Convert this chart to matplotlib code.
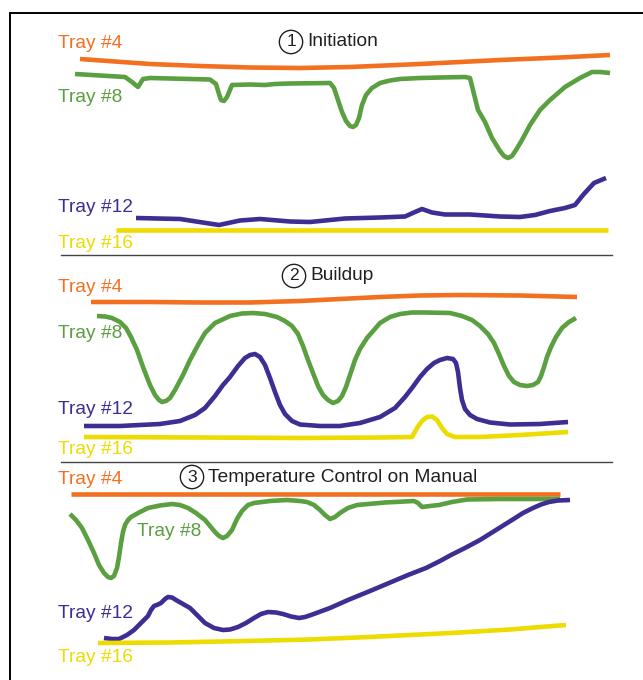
import matplotlib
matplotlib.use("Agg")
from matplotlib import pyplot

pyplot.rcParams["font.family"] = ["Liberation Sans", "DejaVu Sans"]

# Colours of the four trays
orange = "#F37021"
green = "#5A9F40"
purple = "#3F2D94"
yellow = "#ECDC00"
ink = "#231F20"

# Panel 1: Initiation (x = time, y = trace position)
p1_t4_x = [80, 150, 200, 250, 300, 350, 420, 500, 560, 610]
p1_t4_y = [59, 64, 66, 67.5, 68, 67, 64, 60, 57.5, 55]
p1_t8_x = [75, 100, 125, 132, 138, 143, 150, 210, 216, 219, 221, 224, 227, 232, 250, 265, 275,
           290, 330, 334, 338, 342, 346, 350, 353, 356, 359, 362, 366, 372, 380, 390, 400, 420,
           440, 465, 470, 473, 478, 485, 492, 500, 504, 508, 512, 516, 522, 530, 540, 550, 565,
           580, 592, 600, 610]
p1_t8_y = [74, 75.5, 77, 82, 87, 79, 78, 79.5, 84, 94, 100, 101, 97, 85, 84.5, 85, 84,
           83.5, 83, 88, 100, 112, 121, 126, 127, 125, 118, 105, 95, 88, 83, 80.5, 79, 78,
           77.5, 77, 78, 90, 110, 122, 138, 151, 156, 158, 156, 150, 140, 125, 110, 100, 87,
           78, 72, 72, 73]
p1_t12_x = [136, 180, 219, 240, 260, 290, 310, 345, 380, 405, 415, 422, 432, 445, 470, 500,
            520, 535, 550, 565, 575, 583, 594, 606]
p1_t12_y = [218, 219, 225, 220.5, 219, 221.5, 222, 218.5, 217.5, 216.5, 212, 209, 212.5, 214.5, 214.5, 216.5,
            217, 215, 211, 208, 205, 195, 183, 178]
p1_t16_x = [116, 608]
p1_t16_y = [230, 230]

# Panel 2: Buildup
p2_t4_x = [91, 150, 200, 250, 300, 340, 380, 420, 460, 520, 577]
p2_t4_y = [302, 302, 302.5, 302.5, 301, 299, 297, 295.5, 295, 295.5, 297]
p2_t8_x = [97, 105, 112, 120, 126, 131, 137, 143, 150, 155, 159, 162, 166, 170, 175, 183,
           190, 198, 205, 215, 230, 242, 253, 265, 277, 285, 292, 298, 303, 308, 313, 318,
           323, 328, 333, 338, 342, 346, 350, 355, 360, 367, 374, 380, 390, 400, 412, 425,
           450, 462, 472, 480, 488, 494, 499, 504, 509, 514, 520, 527, 533, 538, 541, 544,
           547, 551, 556, 562, 569, 576]
p2_t8_y = [316, 316.5, 318, 322, 328, 337, 350, 367, 385, 395, 400, 402, 401, 398, 390, 375,
           360, 345, 333, 323, 316, 313.5, 313, 314, 317, 321, 326, 334, 346, 360, 373, 386,
           395, 400, 403, 401, 396, 387, 375, 360, 349, 338, 330, 323, 317, 314, 312.5, 312.5,
           313, 316, 320, 326, 334, 343, 354, 366, 376, 382, 385, 386, 385, 382, 376, 367,
           357, 347, 337, 328, 322, 318]
p2_t12_x = [84, 120, 160, 180, 195, 205, 215, 223, 230, 238, 245, 250, 255, 260, 265, 270,
            275, 280, 285, 292, 300, 320, 340, 360, 380, 395, 405, 412, 420, 427, 434, 440,
            447, 453, 456, 458, 460, 462, 465, 470, 477, 490, 510, 540, 568]
p2_t12_y = [426, 426, 424, 421, 415, 408, 396, 385, 377, 366, 358, 355, 354, 357, 365, 378,
            392, 405, 414, 421, 424.5, 426, 426, 423, 417, 408, 397, 388, 377, 369, 363, 360,
            358, 359, 363, 372, 388, 400, 409, 415, 419, 422.5, 424.5, 424, 422]
p2_t16_x = [84, 200, 300, 380, 412, 417, 422, 427, 432, 437, 442, 447, 455, 480, 520, 568]
p2_t16_y = [437, 437.5, 438, 437.5, 437, 428, 421, 417, 416.5, 420, 428, 434, 437, 437, 435, 432]

# Panel 3: Temperature Control on Manual
p3_t4_x = [71, 560]
p3_t4_y = [494, 494]
p3_t8_x = [70, 76, 82, 88, 94, 99, 104, 108, 111, 114, 117, 119, 121, 123, 125, 128, 131, 140,
           148, 160, 172, 180, 188, 196, 205, 210, 215, 219, 223, 227, 232, 237, 242, 248, 254,
           270, 287, 300, 307, 314, 320, 325, 330, 335, 340, 348, 357, 385, 414, 418, 422, 430,
           439, 452, 467, 500, 560]
p3_t8_y = [514, 520, 528, 540, 553, 565, 573, 577, 578, 576, 568, 557, 543, 532, 525, 520,
           517, 512, 508, 505.5, 504, 505, 508, 513, 520, 526, 532, 536, 538, 536, 530, 519,
           511, 505, 503, 501, 500, 501, 502, 505, 510, 515, 519, 517, 513, 508, 505, 502.5,
           501, 503, 507, 506, 505, 502, 499.5, 499, 499]
p3_t12_x = [104, 112, 119, 127, 134, 141, 148, 151, 154, 158, 161, 165, 168, 172, 176, 183,
            190, 198, 205, 214, 223, 230, 238, 246, 254, 261, 268, 276, 283, 291, 299, 305,
            311, 330, 348, 370, 389, 408, 426, 440, 451, 465, 480, 496, 512, 523, 533, 541,
            549, 558, 570]
p3_t12_y = [638, 639, 639, 635, 630, 623, 616, 610, 606, 604.5, 603, 599, 597, 597.5, 600, 604,
            608, 616, 623, 628, 630, 629.5, 627, 623, 618, 614, 612, 612.5, 614, 616.5, 618, 617,
            615, 608, 600, 591, 583, 575, 568, 561, 555, 548, 540, 530, 520, 513, 508, 504.5,
            502, 500.5, 500]
p3_t16_x = [98, 170, 246, 310, 369, 410, 451, 510, 566]
p3_t16_y = [643, 642.5, 641, 639.5, 637, 635, 633, 629.5, 625]

# Panel captions and label positions
titles = ["1", "2", "3"]
title_texts = ["Initiation", "Buildup", "Temperature Control on Manual"]
title_x = [291, 294, 192]
title_y = [42, 276, 477]
label_text = ["Tray #4", "Tray #8", "Tray #12", "Tray #16"]
label_colours = [orange, green, purple, yellow]
label_pos = [
    [(58, 43), (58, 97), (58, 208), (58, 244)],
    [(58, 287), (58, 333), (58, 410), (58, 449)],
    [(58, 479), (137, 532), (58, 613), (58, 658)],
]
separators_y = [255, 462]


def draw_chart(save=True):
    f = pyplot.figure(figsize=(6.43, 6.80), dpi=100)
    ax = f.add_axes([0, 0, 1, 1])
    ax.set_xlim(0, 643)
    ax.set_ylim(680, 0)
    ax.axis("off")

    # Frame and separators
    ax.plot([10, 10, 643], [680, 12.7, 12.7], color="black", linewidth=1.4,
            solid_capstyle="butt", solid_joinstyle="miter")
    for y in separators_y:
        ax.plot([61, 612], [y, y], color="#444444", linewidth=1.0)

    panels = [
        [(p1_t4_x, p1_t4_y), (p1_t8_x, p1_t8_y), (p1_t12_x, p1_t12_y), (p1_t16_x, p1_t16_y)],
        [(p2_t4_x, p2_t4_y), (p2_t8_x, p2_t8_y), (p2_t12_x, p2_t12_y), (p2_t16_x, p2_t16_y)],
        [(p3_t4_x, p3_t4_y), (p3_t8_x, p3_t8_y), (p3_t12_x, p3_t12_y), (p3_t16_x, p3_t16_y)],
    ]
    for p, traces in enumerate(panels):
        for i, (xs, ys) in enumerate(traces):
            ax.plot(xs, ys, color=label_colours[i], linewidth=3.3,
                    solid_capstyle="butt", solid_joinstyle="round")
        for i, (lx, ly) in enumerate(label_pos[p]):
            ax.text(lx, ly, label_text[i], color=label_colours[i], fontsize=13.8,
                    ha="left", va="center")
        # Circled step number and caption
        ax.text(title_x[p], title_y[p], titles[p], color=ink, fontsize=12.5,
                ha="center", va="center",
                bbox=dict(boxstyle="circle,pad=0.24", fc="none", ec=ink, lw=1.0))
        ax.text(title_x[p] + 16, title_y[p], title_texts[p], color=ink, fontsize=13.8,
                ha="left", va="center")

    if save:
        pyplot.savefig("out.png", dpi=100)


draw_chart()
